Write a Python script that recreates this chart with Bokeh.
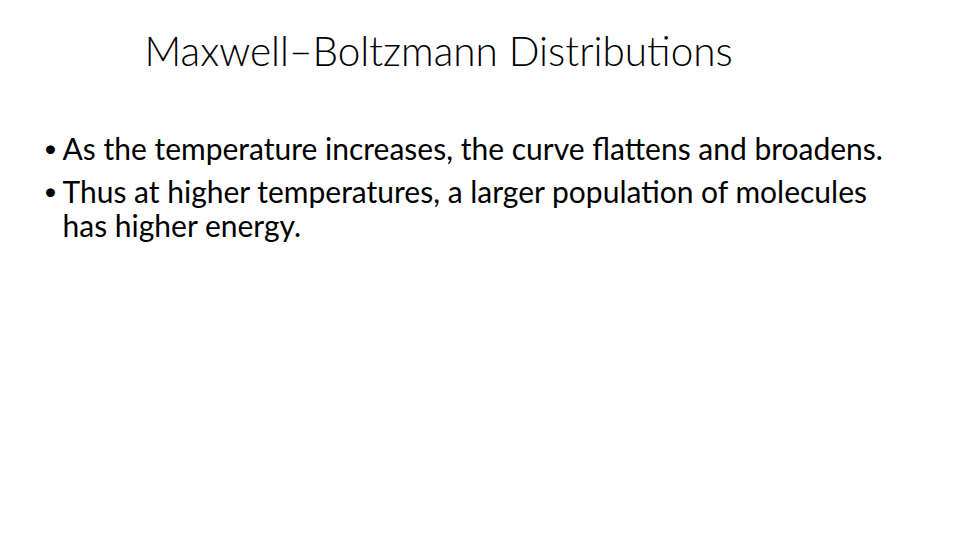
from bokeh.plotting import figure
from bokeh.models import Range1d, ColumnDataSource
from bokeh.core.properties import value
from bokeh.embed import file_html
from bokeh.resources import INLINE

# ---- content ----
title_text = ["Maxwell\u2013Boltzmann Distributions"]
bullet_lines = [
    "As the temperature increases, the curve flattens and broadens.",
    "Thus at higher temperatures, a larger population of molecules",
    "has higher energy.",
]
bullet_marks = ["\u2022", "\u2022", ""]

W, H = 944, 524
OFF = 8  # page margin

p = figure(width=W, height=H, output_backend="svg", toolbar_location=None,
           x_range=Range1d(0, W), y_range=Range1d(H, 0),
           min_border=0, outline_line_color=None)
p.axis.visible = False
p.grid.visible = False
p.background_fill_color = "white"
p.border_fill_color = "white"

# title
p.text(x=[152 - OFF], y=[74 - OFF - 16], text=title_text,
       text_font=value("Lato Light"), text_font_size="40.5px",
       text_color="black", text_baseline="alphabetic", text_align="left")

# bullet text
baselines = [168 - OFF - 13, 211 - OFF - 13, 245 - OFF - 13]
src = ColumnDataSource(dict(x=[70 - OFF] * 3, y=baselines, t=bullet_lines,
                            bx=[58 - OFF] * 3, b=bullet_marks))
p.text(x="x", y="y", text="t", source=src,
       text_font=value("Lato"), text_font_size="30px",
       text_color="black", text_baseline="alphabetic", text_align="left")
p.text(x="bx", y="y", text="b", source=src,
       text_font=value("Lato"), text_font_size="24px",
       text_color="black", text_baseline="alphabetic", text_align="center")

open("out.html", "w").write(file_html(p, INLINE))
